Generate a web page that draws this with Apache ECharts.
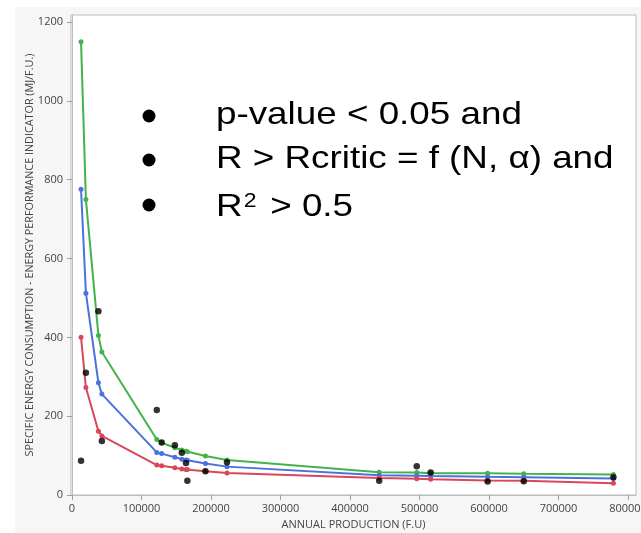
<!DOCTYPE html>
<html>
<head>
<meta charset="utf-8">
<script src="https://cdn.jsdelivr.net/npm/echarts@6/dist/echarts.min.js"></script>
<style>
  html, body { margin: 0; padding: 0; background: #ffffff; }
  #bg { position: absolute; left: 15px; top: 7px; width: 626px; height: 526px; background: #f6f6f6; }
  #chart { position: absolute; left: 0; top: 0; width: 641px; height: 533px; }
</style>
</head>
<body>
<div id="bg"></div>
<div id="chart"></div>
<script>
// Annual production (F.U) for each observation
const production = [13000, 20000, 38000, 43000, 122000, 129000, 148000, 158000, 164000, 166000, 192000, 223000, 442000, 496000, 516000, 598000, 650000, 779000];
// Model curves (MJ/F.U.)
const upperCurve = [1150, 750, 405, 363, 141, 133, 120, 114, 111, 110, 99, 89, 58, 57, 55, 55, 54, 52];
const middleCurve = [776, 512, 285, 256, 108, 105, 96, 91, 89, 88, 80, 72, 50, 49, 48, 46, 45, 42];
const lowerCurve = [400, 273, 162, 150, 76, 74, 69, 66, 65, 65, 60, 56, 43, 41, 40, 37, 36, 30];
// Observed values (MJ/F.U.)
const observed = [87, 310, 466, 137, 216, 133, 126, 107, 81, 36, 60, 83, 36, 73, 57, 34, 35, 45];
// Tick labels
const xTicks = [0, 100000, 200000, 300000, 400000, 500000, 600000, 700000, 800000];
const yTicks = [0, 200, 400, 600, 800, 1000, 1200];
// Annotation lines
const notes = ['p-value < 0.05 and', 'R > Rcritic = f (N, α) and', '{a|R}{s|2}{a| > 0.5}'];

const pairs = (ys) => production.map((x, i) => [x, ys[i]]);

const chart = echarts.init(document.getElementById('chart'), null, { renderer: 'canvas' });
const axisFont = 'Open Sans';
const lineSeries = (name, ys, color) => ({
  name, type: 'line', data: pairs(ys), smooth: false,
  symbol: 'circle', symbolSize: 5, showSymbol: true,
  lineStyle: { color, width: 2 }, itemStyle: { color },
  z: 2, animation: false
});

const noteFont = 32, noteScaleX = 1.15;
const noteY = [115, 159.5, 204];
const bulletY = [116, 160, 205];
const graphics = [];
bulletY.forEach(y => graphics.push({ type: 'circle', shape: { cx: 149, cy: y, r: 6.5 }, style: { fill: '#000' }, z: 10 }));
notes.forEach((t, i) => {
  const rich = {
    a: { fontFamily: 'Liberation Sans', fontSize: noteFont, lineHeight: 38, fill: '#000', verticalAlign: 'bottom' },
    s: { fontFamily: 'Liberation Sans', fontSize: 20, lineHeight: 38, fill: '#000', verticalAlign: 'top', padding: [6, 3, 0, 1] }
  };
  graphics.push({
    type: 'text', x: 216, y: noteY[i], scaleX: noteScaleX, z: 10,
    style: { text: t, rich, fontFamily: 'Liberation Sans', fontSize: noteFont, fill: '#000', align: 'left', verticalAlign: 'middle' }
  });
});

chart.setOption({
  animation: false,
  backgroundColor: 'transparent',
  grid: { left: 71, right: 5, top: 15, bottom: 38, outerBoundsMode: 'none', containLabel: false, show: true, backgroundColor: '#ffffff', borderColor: '#bdbdbd', borderWidth: 1 },
  xAxis: {
    type: 'value', min: -1440, max: 811500,
    name: 'ANNUAL PRODUCTION (F.U)', nameLocation: 'middle', nameGap: 24, nameMoveOverlap: false,
    nameTextStyle: { fontFamily: axisFont, fontSize: 11, color: '#444' },
    axisLine: { show: true, lineStyle: { color: '#bdbdbd' } },
    axisTick: { show: true, length: 5, lineStyle: { color: '#a0a0a0' }, customValues: xTicks },
    axisLabel: { fontFamily: axisFont, fontSize: 11, color: '#444', margin: 8, customValues: xTicks, formatter: v => String(v) },
    splitLine: { show: false }
  },
  yAxis: {
    type: 'value', min: 0, max: 1218,
    name: 'SPECIFIC ENERGY CONSUMPTION - ENERGY PERFORMANCE INDICATOR (MJ/F.U.)',
    nameLocation: 'middle', nameGap: 36, nameRotate: 90, nameMoveOverlap: false,
    nameTextStyle: { fontFamily: axisFont, fontSize: 10.8, color: '#444' },
    axisLine: { show: true, lineStyle: { color: '#bdbdbd' } },
    axisTick: { show: true, length: 5, lineStyle: { color: '#a0a0a0' }, customValues: yTicks },
    axisLabel: { fontFamily: axisFont, fontSize: 11, color: '#444', margin: 8, customValues: yTicks, formatter: v => String(v) },
    splitLine: { show: false }
  },
  series: [
    lineSeries('upper', upperCurve, '#45b34b'),
    lineSeries('middle', middleCurve, '#4a72dc'),
    lineSeries('lower', lowerCurve, '#d9485a'),
    {
      name: 'observed', type: 'scatter', data: pairs(observed),
      symbol: 'circle', symbolSize: 6.5, itemStyle: { color: '#000000' }, z: 5
    }
  ],
  graphic: graphics
});
</script>
</body>
</html>
